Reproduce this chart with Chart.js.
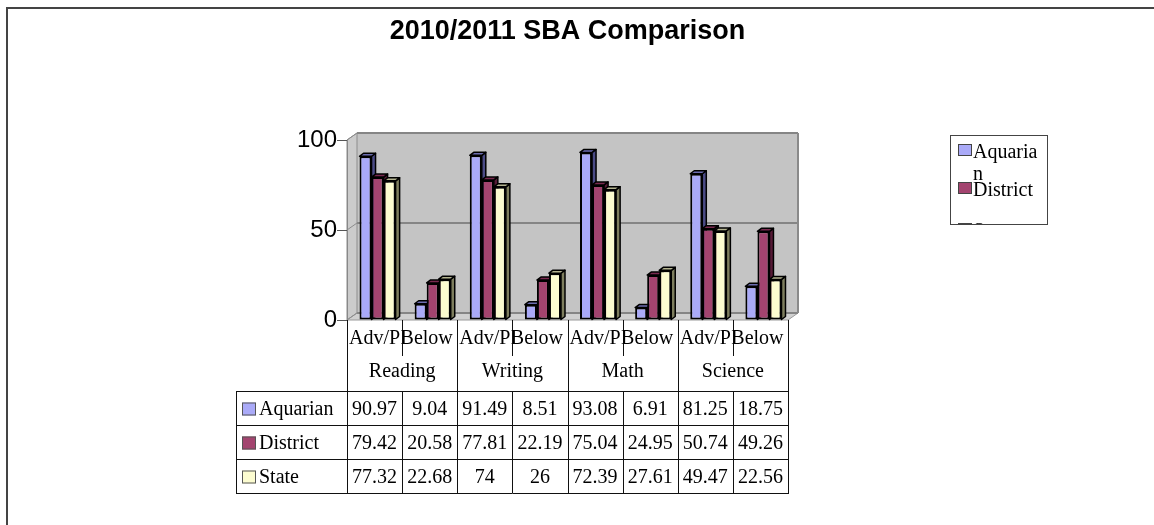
<!DOCTYPE html>
<html><head><meta charset="utf-8">
<script src="https://cdn.jsdelivr.net/npm/chart.js@4.4.1/dist/chart.umd.min.js"></script>
<style>html,body{margin:0;padding:0;background:#fff;overflow:hidden}canvas{display:block}</style>
</head><body>
<canvas id="c" width="1154" height="525"></canvas>
<script>
// ---- data ----
const chartTitle = '2010/2011 SBA Comparison';
const subjects = ['Reading', 'Writing', 'Math', 'Science'];
const levels = ['Adv/P', 'Below'];
const seriesNames = ['Aquarian', 'District', 'State'];
const aquarian = [90.97, 9.04, 91.49, 8.51, 93.08, 6.91, 81.25, 18.75];
const district = [79.42, 20.58, 77.81, 22.19, 75.04, 24.95, 50.74, 49.26];
const state = [77.32, 22.68, 74, 26, 72.39, 27.61, 49.47, 22.56];
const yTicks = [0, 50, 100];

// ---- style ----
const frontColors = ['#aaaaf8', '#a3446f', '#fcfcd0'];
const sideColors = ['#4b4b86', '#561a36', '#7e7e5e'];
const topColors = ['#6c6cb0', '#7a2a50', '#b4b490'];
const serif = "'Liberation Serif','Times New Roman',serif";
const sans = "'Liberation Sans',Arial,sans-serif";
const WDX = 10, WDY = -7;     // wall depth
const BDX = 4, BDY = -3;      // bar depth
const SHIFT = 3;              // bar group shift

const labels = [];
subjects.forEach(() => levels.forEach(l => labels.push(l)));
const seriesData = [aquarian, district, state];

function poly(ctx, pts, fill, stroke, lw) {
  ctx.beginPath();
  pts.forEach((p, i) => i ? ctx.lineTo(p[0], p[1]) : ctx.moveTo(p[0], p[1]));
  ctx.closePath();
  if (fill) { ctx.fillStyle = fill; ctx.fill(); }
  if (stroke) { ctx.strokeStyle = stroke; ctx.lineWidth = lw || 1; ctx.stroke(); }
}
function seg(ctx, x1, y1, x2, y2) {
  ctx.beginPath(); ctx.moveTo(x1, y1); ctx.lineTo(x2, y2); ctx.stroke();
}

const threeD = {
  id: 'threeD',
  beforeDraw(chart) {
    const { ctx, chartArea: a, scales: { y } } = chart;
    const y0 = y.getPixelForValue(0), y100 = y.getPixelForValue(100);
    const L = a.left, R = a.right;
    ctx.save();
    ctx.fillStyle = '#c4c4c4';
    ctx.fillRect(L + WDX, y100 + WDY, R - L, y0 - y100);
    poly(ctx, [[L, y100], [L + WDX, y100 + WDY], [L + WDX, y0 + WDY], [L, y0]], '#cbcbcb', '#8c8c8c', 1);
    poly(ctx, [[L, y0], [L + WDX, y0 + WDY], [R + WDX, y0 + WDY], [R, y0]], '#d0d0d0', '#9a9a9a', 1);
    ctx.strokeStyle = '#858585'; ctx.lineWidth = 2;
    yTicks.forEach(v => {
      const py = y.getPixelForValue(v);
      seg(ctx, L + WDX, py + WDY, R + WDX, py + WDY);
    });
    ctx.lineWidth = 1; ctx.strokeStyle = '#8c8c8c';
    yTicks.forEach(v => {
      const py = y.getPixelForValue(v);
      seg(ctx, L, py, L + WDX, py + WDY);
    });
    ctx.lineWidth = 2; ctx.strokeStyle = '#8a8a8a';
    seg(ctx, R + WDX, y100 + WDY, R + WDX, y0 + WDY);
    ctx.restore();
  },
  beforeDatasetsDraw(chart) {
    const ctx = chart.ctx;
    ctx.save();
    ctx.translate(SHIFT, 0);
    const metas = chart.data.datasets.map((d, i) => chart.getDatasetMeta(i));
    for (let i = 0; i < labels.length; i++) {
      metas.forEach((m, d) => {
        const el = m.data[i];
        const l = el.x - el.width / 2, r = el.x + el.width / 2, t = el.y, b = el.base;
        ctx.lineJoin = 'round';
        poly(ctx, [[r, t], [r + BDX, t + BDY], [r + BDX, b + BDY], [r, b]], sideColors[d], '#000', 1.5);
        poly(ctx, [[l, t], [l + BDX, t + BDY], [r + BDX, t + BDY], [r, t]], topColors[d], '#000', 1.5);
      });
    }
  },
  afterDatasetsDraw(chart) {
    chart.ctx.restore();
  },
  afterDraw(chart) {
    const { ctx, chartArea: a, scales: { x } } = chart;
    const n = labels.length;
    const cw = x.getPixelForValue(1) - x.getPixelForValue(0);
    const edge = i => x.getPixelForValue(i) - cw / 2;
    const T0 = a.bottom;
    const H1 = T0 + 36, H2 = T0 + 71;
    const rowTops = [H2, H2 + 34, H2 + 68];
    const tBottom = H2 + 102;
    const TL = 236;
    ctx.save();
    ctx.strokeStyle = '#111'; ctx.lineWidth = 1;
    for (let i = 0; i <= n; i++) {
      const px = Math.round(edge(i)) + 0.5;
      if (i % 2 === 0) seg(ctx, px, T0, px, tBottom);
      else { seg(ctx, px, T0, px, H1); seg(ctx, px, H2, px, tBottom); }
    }
    seg(ctx, TL + 0.5, H2, TL + 0.5, tBottom);
    [H2, H2 + 34, H2 + 68, tBottom].forEach(yy => seg(ctx, TL, Math.round(yy) + 0.5, Math.round(edge(n)) + 1, Math.round(yy) + 0.5));
    ctx.fillStyle = '#000';
    ctx.font = '20px ' + serif;
    ctx.textBaseline = 'middle';
    ctx.save();
    ctx.beginPath(); ctx.rect(edge(0) + 1, T0, edge(n) - edge(0), 40); ctx.clip();
    labels.forEach((lab, i) => {
      ctx.textAlign = 'center';
      const cx = x.getPixelForValue(i) + (i % 2 === 1 ? -3 : 0);
      ctx.fillText(lab, cx, T0 + 19);
    });
    ctx.restore();
    subjects.forEach((s, g) => {
      ctx.textAlign = 'center';
      ctx.fillText(s, edge(2 * g + 1), T0 + 52);
    });
    seriesNames.forEach((name, d) => {
      const cy = rowTops[d] + 18.5;
      ctx.fillStyle = frontColors[d];
      ctx.fillRect(242, cy - 7, 14, 13);
      ctx.strokeStyle = '#555'; ctx.lineWidth = 1;
      ctx.strokeRect(242.5, cy - 6.5, 13, 12);
      ctx.fillStyle = '#000';
      ctx.textAlign = 'left';
      ctx.fillText(name, 259, cy);
      ctx.textAlign = 'center';
      seriesData[d].forEach((v, i) => ctx.fillText(String(v), x.getPixelForValue(i), cy));
    });
    // legend
    const LB = { x: 950, y: 135, w: 97, h: 89 };
    const keyTops = [144, 182, 223];
    ctx.save();
    ctx.beginPath(); ctx.rect(LB.x, LB.y, LB.w, LB.h); ctx.clip();
    ctx.textBaseline = 'alphabetic'; ctx.textAlign = 'left';
    const maxW = LB.x + LB.w - 973 - 2;
    seriesNames.forEach((name, d) => {
      const kt = keyTops[d];
      ctx.fillStyle = frontColors[d];
      ctx.fillRect(958, kt, 14, 12);
      ctx.strokeStyle = '#444'; ctx.lineWidth = 1;
      ctx.strokeRect(958.5, kt + 0.5, 13, 11);
      const lines = []; let cur = '';
      for (const ch of name) {
        if (ctx.measureText(cur + ch).width > maxW && cur) { lines.push(cur); cur = ch; }
        else cur += ch;
      }
      lines.push(cur);
      ctx.fillStyle = '#000';
      lines.forEach((ln, k) => ctx.fillText(ln, 973, kt + 14 + k * 22));
    });
    ctx.restore();
    ctx.strokeStyle = '#444'; ctx.lineWidth = 1;
    ctx.strokeRect(LB.x + 0.5, LB.y + 0.5, LB.w, LB.h);
    ctx.strokeStyle = '#444'; ctx.lineWidth = 2;
    ctx.beginPath(); ctx.moveTo(7, 525); ctx.lineTo(7, 8); ctx.lineTo(1154, 8); ctx.stroke();
    ctx.restore();
  }
};

new Chart(document.getElementById('c'), {
  type: 'bar',
  data: {
    labels: labels,
    datasets: seriesNames.map((name, d) => ({
      label: name,
      data: seriesData[d],
      backgroundColor: frontColors[d],
      borderColor: '#000',
      borderWidth: 2,
      borderSkipped: false,
      categoryPercentage: 0.655,
      barPercentage: 1
    }))
  },
  options: {
    responsive: false,
    animation: false,
    devicePixelRatio: 1,
    layout: { padding: { left: 287, right: 366, top: 0, bottom: 205 } },
    plugins: {
      legend: { display: false },
      tooltip: { enabled: false },
      title: {
        display: true, text: chartTitle, fullSize: false, color: '#000',
        font: { family: sans, size: 27, weight: 'bold' },
        padding: { top: 15, bottom: 92.6 }
      }
    },
    scales: {
      x: { display: false },
      y: {
        min: 0, max: 100,
        afterFit(s) { s.width = 60; },
        afterBuildTicks(s) { s.ticks = yTicks.map(v => ({ value: v })); },
        ticks: { font: { family: sans, size: 24 }, color: '#000', padding: 0 },
        grid: { drawOnChartArea: false, drawTicks: true, tickLength: 10, color: '#555' },
        border: { display: true, color: '#888', width: 1 }
      }
    }
  },
  plugins: [threeD]
});
</script>
</body></html>
